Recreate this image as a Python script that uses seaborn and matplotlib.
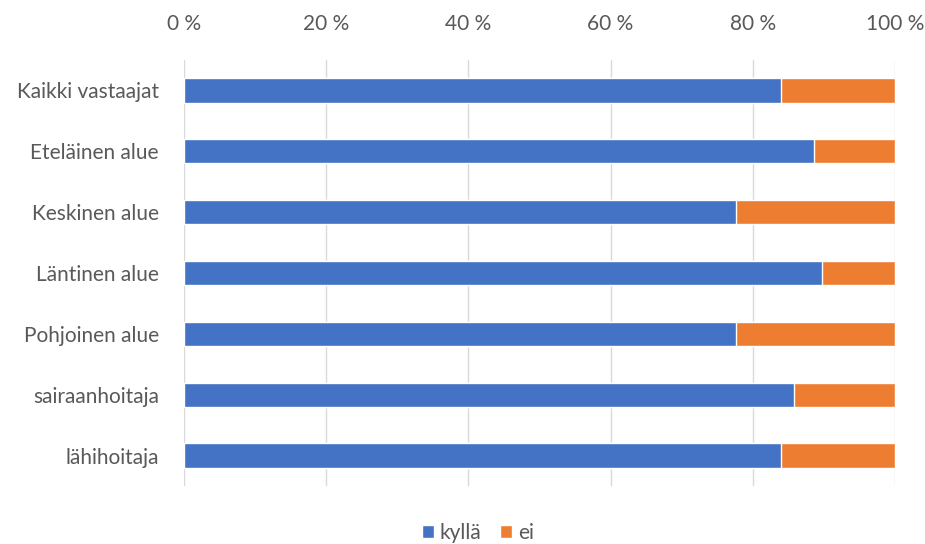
import matplotlib
matplotlib.use("Agg")
import matplotlib.pyplot as plt
import seaborn as sns
import pandas as pd
import numpy as np

categories = ["Kaikki vastaajat", "Eteläinen alue", "Keskinen alue", "Läntinen alue",
              "Pohjoinen alue", "sairaanhoitaja", "lähihoitaja"]
kylla = [84.0, 88.6, 77.6, 89.7, 77.6, 85.8, 83.9]
ei = [16.0, 11.4, 22.4, 10.3, 22.4, 14.2, 16.1]
tick_values = [0, 20, 40, 60, 80, 100]
tick_labels = ["0 %", "20 %", "40 %", "60 %", "80 %", "100 %"]
series_names = ["kyllä", "ei"]

BLUE = "#4472C4"
ORANGE = "#ED7D31"
TEXT = "#595959"
FS = 15

sns.set_theme(style="white")
plt.rcParams["font.family"] = ["Lato", "DejaVu Sans"]

df = pd.DataFrame({"ryhmä": categories, "kyllä": kylla, "ei": ei})
df["yhteensä"] = df["kyllä"] + df["ei"]

fig = plt.figure(figsize=(9.25, 5.44), dpi=100)
ax = fig.add_axes([184 / 925, 1 - 486 / 544, (895 - 184) / 925, (486 - 60) / 544])

# stacked bars: the full extent in orange, the "kyllä" share in blue on top
sns.barplot(data=df, x="yhteensä", y="ryhmä", orient="h", color=ORANGE,
            width=0.4, saturation=1, ax=ax, label=series_names[1], legend=False)
sns.barplot(data=df, x="kyllä", y="ryhmä", orient="h", color=BLUE,
            width=0.4, saturation=1, ax=ax, label=series_names[0], legend=False)

ax.set_xlim(0, 100)
ax.set_ylim(len(categories) - 0.5, -0.5)
ax.set_xticks(tick_values)
ax.set_xticklabels(tick_labels)
ax.xaxis.tick_top()
ax.tick_params(axis="x", length=0, pad=19, labelsize=FS, labelcolor=TEXT)
ax.tick_params(axis="y", length=0, pad=18, labelsize=FS, labelcolor=TEXT)
ax.set_xlabel("")
ax.set_ylabel("")
ax.grid(axis="x", color="#D9D9D9", linewidth=1)
ax.set_axisbelow(True)
for s in ax.spines.values():
    s.set_visible(False)

handles, labels = ax.get_legend_handles_labels()
if ax.get_legend() is not None:
    ax.get_legend().remove()
order = [labels.index(n) for n in series_names]
leg = fig.legend([handles[i] for i in order], [labels[i] for i in order],
                 loc="center", bbox_to_anchor=(478 / 925, 1 - 533 / 544), ncol=2,
                 frameon=False, fontsize=FS, handlelength=0.55, handleheight=0.55,
                 handletextpad=0.3, columnspacing=0.9)
for t in leg.get_texts():
    t.set_color(TEXT)

fig.savefig("out.png", dpi=100)
